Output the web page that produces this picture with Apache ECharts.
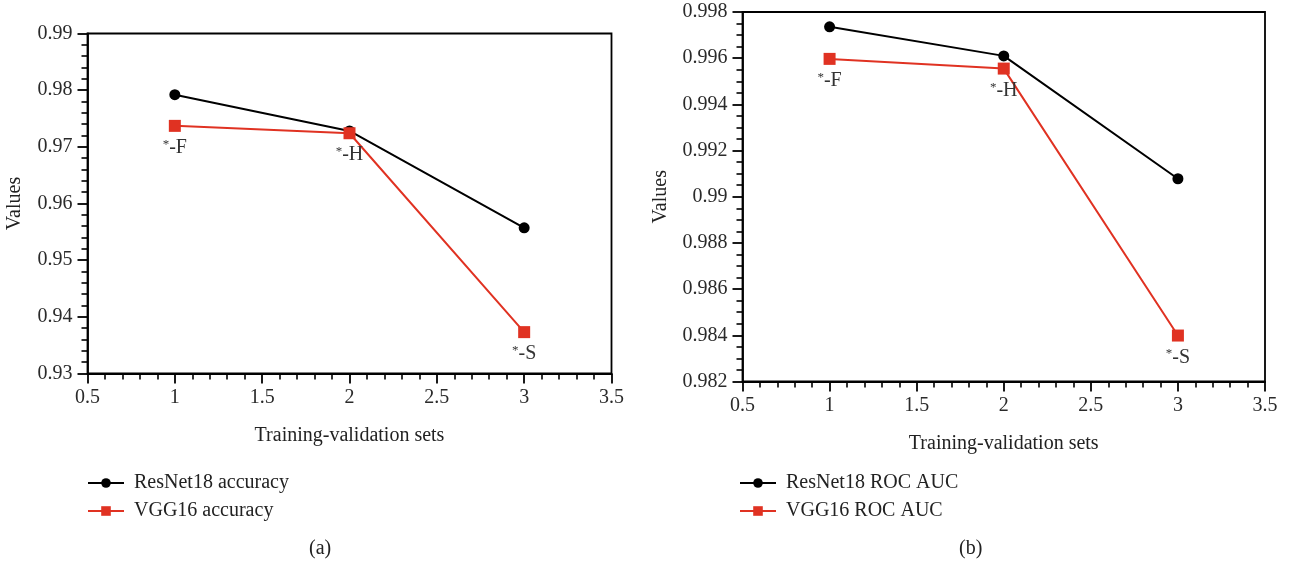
<!DOCTYPE html>
<html>
<head>
<meta charset="utf-8">
<script src="https://cdn.jsdelivr.net/npm/echarts@6/dist/echarts.min.js"></script>
<style>
  html, body { margin: 0; padding: 0; background: #fff; }
  #chart { width: 1293px; height: 563px; }
</style>
</head>
<body>
<div id="chart"></div>
<script>
// data
const sets = [1, 2, 3]
const setTags = ['F', 'H', 'S']
const resnetAcc = [0.9792, 0.9728, 0.9557]
const vggAcc = [0.9737, 0.9724, 0.9373]
const resnetAuc = [0.99736, 0.9961, 0.99078]
const vggAuc = [0.99597, 0.99555, 0.98399]

const FONT = 'Liberation Serif'
const FS = 20
const RED = '#e03222'
const chart = echarts.init(document.getElementById('chart'))

const pairs = (ys) => sets.map((x, i) => [x, ys[i]])

const axisBase = {
  axisLine: { show: true, lineStyle: { color: '#000', width: 1.8 } },
  axisTick: { show: true, inside: false, length: 10, lineStyle: { color: '#000', width: 1.8 } },
  minorTick: { show: true, length: 6, lineStyle: { color: '#000', width: 1.6 } },
  splitLine: { show: false },
  axisLabel: { color: '#2a2a2a', fontFamily: FONT, fontSize: FS },
  nameTextStyle: { color: '#222', fontFamily: FONT, fontSize: FS },
}

const xAxis = (gi) => ({
  ...axisBase,
  gridIndex: gi,
  type: 'value',
  min: 0.5,
  max: 3.5,
  interval: 0.5,
  minorTick: { ...axisBase.minorTick, splitNumber: 5 },
  axisLabel: { ...axisBase.axisLabel, margin: 14, formatter: (v) => String(+v.toFixed(2)) },
  name: 'Training-validation sets',
  nameLocation: 'middle',
  nameGap: 52,
})

const yAxis = (gi, min, max, step, minorSplit, digits) => ({
  ...axisBase,
  gridIndex: gi,
  type: 'value',
  min,
  max,
  interval: step,
  minorTick: { ...axisBase.minorTick, splitNumber: minorSplit },
  axisLabel: { ...axisBase.axisLabel, margin: 15, formatter: (v) => String(+v.toFixed(digits)) },
  name: 'Values',
  nameLocation: 'middle',
  nameGap: gi === 0 ? 63 : 72,
})

const tagLabel = {
  show: true,
  position: 'bottom',
  distance: 6,
  formatter: (p) => '{s|*}{t|-' + setTags[p.dataIndex] + '}',
  rich: {
    s: { fontFamily: FONT, fontSize: 13, color: '#333', padding: [0, 0, 7, 0] },
    t: { fontFamily: FONT, fontSize: FS, color: '#333' },
  },
}

const blackSeries = (name, gi, ys) => ({
  name,
  type: 'line',
  xAxisIndex: gi,
  yAxisIndex: gi,
  data: pairs(ys),
  symbol: 'circle',
  symbolSize: 11,
  color: '#000',
  lineStyle: { width: 2, color: '#000' },
  itemStyle: { color: '#000' },
  z: 3,
})

const redSeries = (name, gi, ys) => ({
  name,
  type: 'line',
  xAxisIndex: gi,
  yAxisIndex: gi,
  data: pairs(ys),
  symbol: 'rect',
  symbolSize: 12,
  color: RED,
  lineStyle: { width: 2, color: RED },
  itemStyle: { color: RED },
  label: tagLabel,
  z: 4,
})

const legend = (left, names) => ({
  left,
  top: 468,
  orient: 'vertical',
  itemWidth: 36,
  itemHeight: 12,
  itemGap: 8,
  data: names,
  textStyle: { fontFamily: FONT, fontSize: FS, color: '#222', padding: [0, 0, 0, 5] },
})

chart.setOption({
  animation: false,
  backgroundColor: '#fff',
  grid: [
    { left: 87.5, top: 33.5, width: 524, height: 340, show: true, borderColor: '#000', borderWidth: 1.8 },
    { left: 742.5, top: 12, width: 522.5, height: 369.5, show: true, borderColor: '#000', borderWidth: 1.8 },
  ],
  xAxis: [xAxis(0), xAxis(1)],
  yAxis: [yAxis(0, 0.93, 0.99, 0.01, 5, 2), yAxis(1, 0.982, 0.998, 0.002, 4, 3)],
  legend: [
    legend(82, ['ResNet18 accuracy', 'VGG16 accuracy']),
    legend(734, ['ResNet18 ROC AUC', 'VGG16 ROC AUC']),
  ],
  title: [
    { text: '(a)', left: 304, top: 534, textStyle: { fontFamily: FONT, fontSize: FS, fontWeight: 'normal', color: '#222' } },
    { text: '(b)', left: 954, top: 534, textStyle: { fontFamily: FONT, fontSize: FS, fontWeight: 'normal', color: '#222' } },
  ],
  series: [
    blackSeries('ResNet18 accuracy', 0, resnetAcc),
    redSeries('VGG16 accuracy', 0, vggAcc),
    blackSeries('ResNet18 ROC AUC', 1, resnetAuc),
    redSeries('VGG16 ROC AUC', 1, vggAuc),
  ],
})
</script>
</body>
</html>
